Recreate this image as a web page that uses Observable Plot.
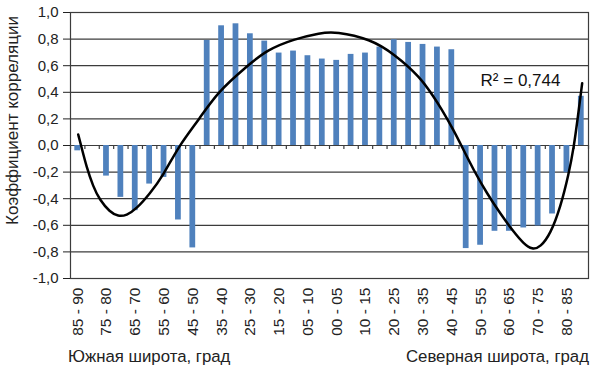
<!DOCTYPE html>
<html><head><meta charset="utf-8">
<script src="https://cdn.jsdelivr.net/npm/d3@7"></script>
<script src="https://cdn.jsdelivr.net/npm/@observablehq/plot@0.6"></script>
<style>
body{margin:0;background:#fff;font-family:"Liberation Sans",Arial,sans-serif;}
#cap{display:flex;justify-content:space-between;width:521px;margin-left:68px;font-size:16.8px;padding-top:8px;line-height:18px;color:#222}
</style></head><body><div id="chart"></div><div id="cap"><span>Южная широта, град</span><span>Северная широта, град</span></div>
<script>
const categories = [
  "85 - 90","80 - 85","75 - 80","70 - 75","65 - 70","60 - 65","55 - 60","50 - 55","45 - 50",
  "40 - 45","35 - 40","30 - 35","25 - 30","20 - 25","15 - 20","10 - 15","05 - 10","00 - 05",
  "00 - 05","05 - 10","10 - 15","15 - 20","20 - 25","25 - 30","30 - 35","35 - 40","40 - 45",
  "45 - 50","50 - 55","55 - 60","60 - 65","65 - 70","70 - 75","75 - 80","80 - 85","85 - 90"
];
const values = [
  -0.04, null, -0.23, -0.39, -0.49, -0.29, -0.24, -0.56, -0.77,
  0.79, 0.90, 0.915, 0.84, 0.785, 0.695, 0.71, 0.675, 0.65,
  0.64, 0.685, 0.695, 0.74, 0.795, 0.775, 0.76, 0.74, 0.72,
  -0.775, -0.75, -0.645, -0.645, -0.62, -0.605, -0.515, -0.205, 0.37
];
const yTicks = [-1, -0.8, -0.6, -0.4, -0.2, 0, 0.2, 0.4, 0.6, 0.8, 1];
// trend line: position in category units, value
const trendPos = [0.035, 0.264, 0.612, 1.078, 1.536, 2.231, 2.815, 3.392, 4.087, 5.011, 5.942, 7.04, 8.46, 9.7, 11.8, 13.17, 15.02, 16.87, 17.92, 20.35, 21.97, 23.82, 24.75, 25.21, 26.14, 26.72, 27.53, 28.46, 29.38, 30.31, 31.00, 31.59, 32.16, 32.86, 33.55, 34.13, 34.48, 34.76, 35.06];
const trendVal = [0.083, -0.012, -0.16, -0.31, -0.41, -0.50, -0.534, -0.526, -0.476, -0.363, -0.226, 0.0, 0.2, 0.4, 0.6, 0.72, 0.80, 0.847, 0.857, 0.80, 0.69, 0.514, 0.363, 0.288, 0.113, -0.013, -0.188, -0.363, -0.514, -0.652, -0.739, -0.784, -0.764, -0.664, -0.464, -0.213, -0.013, 0.213, 0.468];
const r2Label = ["R² = 0,744"];
const r2Pos = [28.0];
const r2Val = [0.49];
const yTitle = ["Коэффициент корреляции"];

const bars = values.map((v, i) => ({i, v})).filter(d => d.v !== null);
const trend = trendPos.map((p, k) => ({p, v: trendVal[k]}));
const bounds = d3.range(categories.length + 1).map(i => i - 0.5);
const labelIdx = d3.range(0, categories.length, 2);
const fmt = d => d.toFixed(1).replace(".", ",");
const gridColor = "#3c3c3c";

const chart = Plot.plot({
  width: 598,
  height: 340,
  marginLeft: 70,
  marginRight: 10,
  marginTop: 12,
  marginBottom: 62,
  style: {fontFamily: '"Liberation Sans", Arial, sans-serif', fontSize: "15px", color: "#222", background: "#fff"},
  x: {type: "linear", domain: [-0.5, categories.length - 0.5]},
  y: {domain: [-1, 1]},
  marks: [
    Plot.ruleY(yTicks, {stroke: gridColor, strokeWidth: 1.2}),
    Plot.rectY(bars, {x1: d => d.i - 0.2, x2: d => d.i + 0.2, y: "v", fill: "#4F81BD"}),
    Plot.ruleX(bounds, {x: d => d, y1: 0, y2: -0.03, stroke: gridColor, strokeWidth: 1.2}),
    Plot.line(trend, {x: "p", y: "v", curve: "basis", stroke: "#000", strokeWidth: 2.5}),
    Plot.frame({stroke: gridColor, strokeWidth: 1.2}),
    Plot.axisY(yTicks, {tickSize: 7, tickPadding: 5, tickFormat: fmt, fontSize: 15, label: null}),
    Plot.axisX(labelIdx, {tickSize: 0, tickRotate: -90, tickPadding: 9, tickFormat: i => categories[i], fontSize: 15.5, label: null}),
    Plot.text(yTitle, {frameAnchor: "left", rotate: -90, dx: -58, dy: -25, text: d => d, textAnchor: "middle", fontSize: 17, fill: "#222"}),
    Plot.text(r2Label, {x: r2Pos, y: r2Val, text: d => d, textAnchor: "start", fontSize: 17, fill: "#111"})
  ]
});
document.getElementById("chart").appendChild(chart);
</script>
</body></html>
